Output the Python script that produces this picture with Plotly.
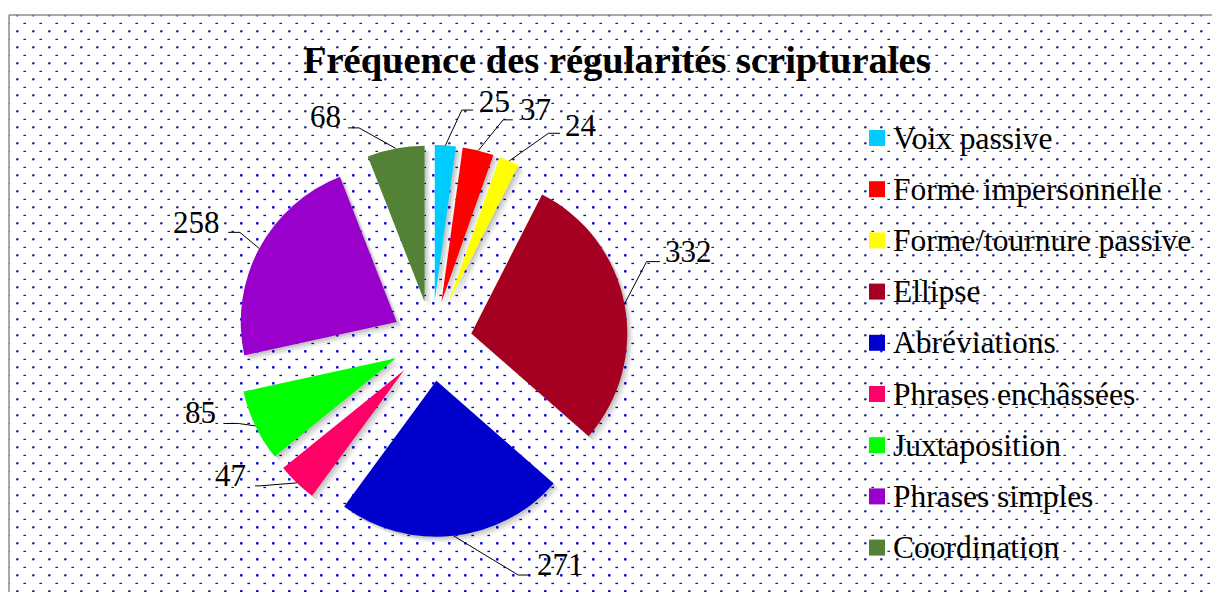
import base64
import numpy as np
import plotly.graph_objects as go

# ---------------- data ----------------
categories = ["Voix passive", "Forme impersonnelle", "Forme/tournure passive", "Ellipse",
              "Abréviations", "Phrases enchâssées", "Juxtaposition", "Phrases simples", "Coordination"]
values = [25, 37, 24, 332, 271, 47, 85, 258, 68]
colors = ["#00CCFF", "#FF0000", "#FFFF00", "#A50021", "#0000CC",
          "#FF0066", "#00FF00", "#9900CC", "#538135"]
title_text = "Fréquence des régularités scripturales"

# ---------------- geometry / style ----------------
PAGE_W, PAGE_H = 1212, 592
OFF = 0                     # body margin removed by post_script
W, H = PAGE_W - OFF, PAGE_H - OFF
CX, CY = 432, 341          # pie centre (page px)
R = 156                     # slice radius (px)
PULL = 40 / 156             # explosion
HALF = R * (1 + PULL)
FONT = "Liberation Serif, Times New Roman, serif"


def px(x):
    return (x - OFF) / W


def py(y):
    return 1 - (y - OFF) / H


def domain(dx=0.0, dy=0.0):
    return dict(x=[px(CX - HALF + dx), px(CX + HALF + dx)],
                y=[py(CY + HALF + dy), py(CY - HALF + dy)])


# leader-line / label styling per slice: elbow offset, horizontal run, text offset, anchor
label_style = [
    (16.4, -35.4, 11.3, 3.5, -9, "left"),
    (24.9, -30.7, 9.7, 5, -10, "left"),
    (39.1, -27.6, 11.7, 3, -8, "left"),
    (22.2, -42.3, 13.3, 3, -10, "left"),
    (64.8, 39.2, 11.7, 5, -11, "left"),
    (-36.7, 3.0, -5, -7, -10, "right"),
    (-16.9, -2.4, -15, -5, -11, "right"),
    (-19.3, -16.1, -11.7, -6.6, -10, "right"),
    (-36.7, -20.5, -11, -5, -11, "right"),
]

# ---------------- background pattern (SVG data URI, page coordinates) ----------------
svg = f"""<svg xmlns='http://www.w3.org/2000/svg' width='{W}' height='{H}' viewBox='{OFF} {OFF} {W} {H}' preserveAspectRatio='none'>
<defs>
<pattern id='p1' patternUnits='userSpaceOnUse' x='-4' y='-4' width='16' height='16'>
<rect x='11.4' y='10.8' width='2.6' height='1.2' fill='#1a1a9a'/>
<circle cx='5.3' cy='3.3' r='1.25' fill='#2a2aa6'/>
</pattern>
<pattern id='p2' patternUnits='userSpaceOnUse' x='-4' y='-4' width='16' height='16'>
<rect x='11.4' y='10.8' width='2.6' height='1.3' fill='#0000c8'/>
<rect x='4.1' y='2.1' width='2.4' height='2.4' fill='#0000e0'/>
</pattern>
</defs>
<rect x='0' y='0' width='{PAGE_W}' height='{PAGE_H}' fill='white'/>
<rect x='9' y='15' width='{PAGE_W}' height='{PAGE_H}' fill='url(#p1)'/>
<rect x='237' y='165' width='403' height='{PAGE_H}' fill='white'/>
<rect x='237' y='165' width='403' height='{PAGE_H}' fill='url(#p2)'/>
</svg>"""
bg_uri = "data:image/svg+xml;base64," + base64.b64encode(svg.encode("utf-8")).decode("ascii")

fig = go.Figure()

# soft drop shadow layers
for off, alpha in [(6, 0.05), (4, 0.08), (2, 0.10)]:
    fig.add_trace(go.Pie(
        labels=categories, values=values, sort=False, direction="clockwise", rotation=0,
        pull=[PULL] * len(values), domain=domain(off, off),
        marker=dict(colors=[f"rgba(0,0,0,{alpha})"] * len(values), line=dict(width=0)),
        textinfo="none", hoverinfo="skip", showlegend=False,
    ))

fig.add_trace(go.Pie(
    labels=categories, values=values, sort=False, direction="clockwise", rotation=0,
    pull=[PULL] * len(values), domain=domain(),
    marker=dict(colors=colors, line=dict(width=0)),
    textinfo="none", showlegend=False,
    hovertemplate="%{label}: %{value}<extra></extra>",
))

shapes = []
annotations = []

# data labels with elbow leader lines
vals = np.array(values, dtype=float)
total = vals.sum()
mid = (np.cumsum(vals) - vals / 2) / total * 2 * np.pi
for i, v in enumerate(values):
    ax_ = CX + HALF * np.sin(mid[i])
    ay_ = CY - HALF * np.cos(mid[i])
    dex, dey, dh, tdx, tdy, anchor = label_style[i]
    ex, ey = ax_ + dex, ay_ + dey
    hx, hy = ex + dh, ey
    for (x0, y0, x1, y1) in [(ax_, ay_, ex, ey), (ex, ey, hx, hy)]:
        shapes.append(dict(type="line", xref="paper", yref="paper",
                           x0=px(x0), y0=py(y0), x1=px(x1), y1=py(y1),
                           line=dict(color="black", width=1)))
    annotations.append(dict(
        x=px(hx + tdx), y=py(hy + tdy), xref="paper", yref="paper",
        text=str(v), showarrow=False, xanchor=anchor, yanchor="middle",
        font=dict(family=FONT, size=31, color="black"),
    ))

# manual legend
LEG_SQ_X0, LEG_SQ_X1, LEG_TXT_X = 869, 885, 891
LEG_Y0, LEG_DY = 138, 51.2
for i, (lab, col) in enumerate(zip(categories, colors)):
    yc = LEG_Y0 + LEG_DY * i
    shapes.append(dict(type="rect", xref="paper", yref="paper",
                       x0=px(LEG_SQ_X0), x1=px(LEG_SQ_X1), y0=py(yc + 8), y1=py(yc - 8),
                       fillcolor=col, line=dict(width=0)))
    annotations.append(dict(
        x=px(LEG_TXT_X), y=py(yc), xref="paper", yref="paper", text=lab,
        showarrow=False, xanchor="left", yanchor="middle",
        font=dict(family=FONT, size=31.5, color="black"),
    ))

# title
annotations.append(dict(
    x=px(617), y=py(60), xref="paper", yref="paper", text=f"<b>{title_text}</b>",
    showarrow=False, xanchor="center", yanchor="middle",
    font=dict(family=FONT, size=38.5, color="black"),
))

# chart frame (top and left edges visible)
shapes.append(dict(type="line", xref="paper", yref="paper", x0=px(9), x1=1.01, y0=py(15), y1=py(15),
                   line=dict(color="#8c8c8c", width=1.5)))
shapes.append(dict(type="line", xref="paper", yref="paper", x0=px(9), x1=px(9), y0=py(15), y1=-0.01,
                   line=dict(color="#8c8c8c", width=1.5)))

fig.update_layout(
    width=W, height=H,
    margin=dict(l=0, r=0, t=0, b=0),
    paper_bgcolor="white",
    plot_bgcolor="white",
    showlegend=False,
    shapes=shapes,
    annotations=annotations,
    images=[dict(source=bg_uri, xref="paper", yref="paper", x=0, y=1, sizex=1, sizey=1,
                 xanchor="left", yanchor="top", sizing="stretch", layer="below")],
)

fig.write_html("out.html",
               config={"displayModeBar": False},
               post_script="document.body.style.margin='0';"
                           "document.documentElement.style.overflow='hidden';"
                           "document.body.style.overflow='hidden';")
